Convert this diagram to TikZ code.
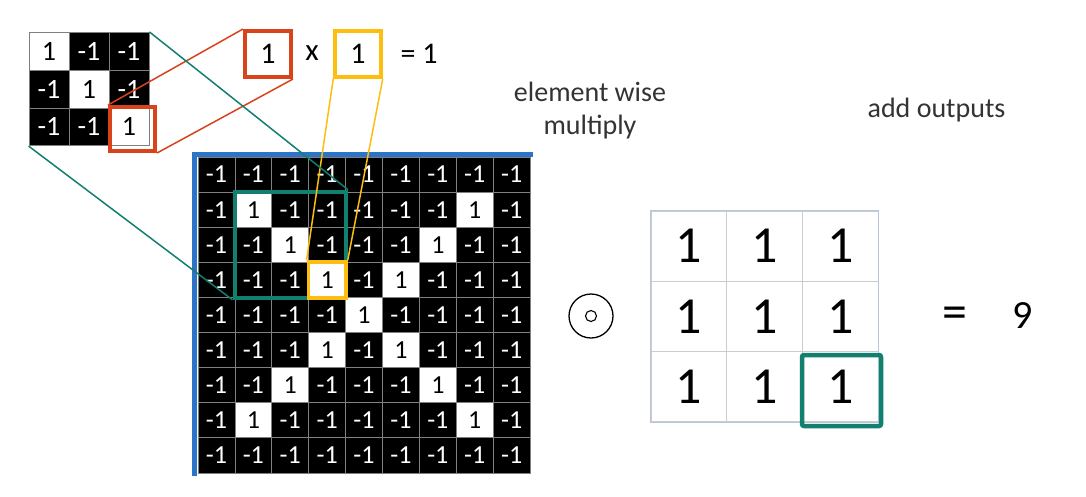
\documentclass[tikz,border=0pt]{standalone}
\usepackage{fontspec}
\setmainfont{Carlito}
\usetikzlibrary{fit}
\definecolor{tealc}{HTML}{11806F}
\definecolor{redc}{HTML}{D8431C}
\definecolor{yelc}{HTML}{FDBE10}
\definecolor{bluec}{HTML}{2C74C6}
\definecolor{edgec}{HTML}{B7C6DA}

\begin{document}
\begin{tikzpicture}[x=1pt,y=-1pt,
    negcell/.style={fill=black,text=white,draw=gray,line width=0.8pt,inner sep=0pt,
      minimum width=36.9pt,minimum height=35.1pt,font=\fontsize{26}{26}\selectfont},
    poscell/.style={negcell,fill=white,text=black},
    kneg/.style={negcell,minimum width=40pt,minimum height=37.8pt,font=\fontsize{28}{28}\selectfont},
    kpos/.style={kneg,fill=white,text=black},
    onecell/.style={draw=gray!40,line width=1pt,inner sep=0pt,minimum width=75.7pt,
      minimum height=70.3pt,font=\fontsize{52}{52}\selectfont},
    lab/.style={font=\fontsize{28}{33}\selectfont,text=black!80,align=center},
    eqtext/.style={font=\fontsize{30}{30}\selectfont}]
\useasboundingbox (0,0) rectangle (1086,496);

\fill[white](0,0)rectangle(1086,496);
\draw[bluec,line width=5pt](194.5,476)--(194.5,154.5)--(533,154.5);
\foreach \i in {1,...,9}
  \foreach \j in {1,...,9}{
    \pgfmathsetmacro\cx{198+(\j-0.5)*36.9}
    \pgfmathsetmacro\cy{157+(\i-0.5)*35.1}
    \pgfmathtruncatemacro\v{and(or(\i==\j,\i+\j==10),and(\i>1,\i<9))}
    \ifnum\v=1 \node[poscell](g-\i-\j)at(\cx,\cy){1};
    \else \node[negcell](g-\i-\j)at(\cx,\cy){-1};\fi
  }

\foreach \i in {1,2,3}
  \foreach \j in {1,2,3}{
    \pgfmathsetmacro\cx{29+(\j-0.5)*40}
    \pgfmathsetmacro\cy{32.3+(\i-0.5)*37.8}
    \ifnum\i=\j \node[kpos](k-\i-\j)at(\cx,\cy){1};
    \else \node[kneg](k-\i-\j)at(\cx,\cy){-1};\fi
  }

\node[draw=tealc,line width=4pt,inner sep=0pt,fit=(g-2-2)(g-4-4)](win){};
\node[draw=yelc,line width=3.5pt,inner sep=0pt,fit=(g-4-4)](ys){};
\node[draw=redc,line width=4pt,minimum width=45pt,minimum height=44pt](rs)at(132.5,129){};

\node[draw=redc,line width=4pt,inner sep=0pt,minimum size=46pt,eqtext](rb)at(268,54){1};
\node[font=\fontsize{31}{31}\selectfont](times)at(312,53){x};
\node[draw=yelc,line width=3.5pt,inner sep=0pt,minimum size=46pt,eqtext](yb)at(358,54){1};
\node[eqtext,anchor=base](res)at(419,63){= 1};

\draw[redc,line width=1.5pt](rs.north west)--(rb.north west);
\draw[redc,line width=1.5pt](rs.south east)--(rb.south east);
\draw[yelc,line width=1.5pt](yb.south west)--(ys.north west);
\draw[yelc,line width=1.5pt](yb.south east)--(ys.north east);
\draw[tealc,line width=1.5pt](k-1-3.north east)--(win.north east);
\draw[tealc,line width=1.5pt](k-3-1.south west)--(win.south west);

\node[lab](ew)at(590,111){element wise\\multiply};
\node[lab,anchor=base](ao)at(936.5,117){add outputs};

\node[circle,draw,line width=1.3pt,minimum size=44pt,inner sep=0pt](odot)at(591,316){};
\node[circle,draw,line width=1.1pt,minimum size=11pt,inner sep=0pt](dot)at(odot){};

\foreach \i in {1,2,3}
  \foreach \j in {1,2,3}
    \node[onecell](o-\i-\j)at({651+(\j-0.5)*75.7},{211+(\i-0.5)*70.3}){1};
\draw[edgec,line width=1.2pt](o-1-1.north west)rectangle(o-3-3.south east);
\node[draw=tealc,line width=4.5pt,rounded corners=2pt,minimum width=79pt,minimum height=71pt](sel)at(841.5,390.5){};

\node[font=\fontsize{50}{50}\selectfont](eqs)at(955,318){=};
\node[font=\fontsize{40}{40}\selectfont](nine)at(1023,316){9};
\end{tikzpicture}
\end{document}
